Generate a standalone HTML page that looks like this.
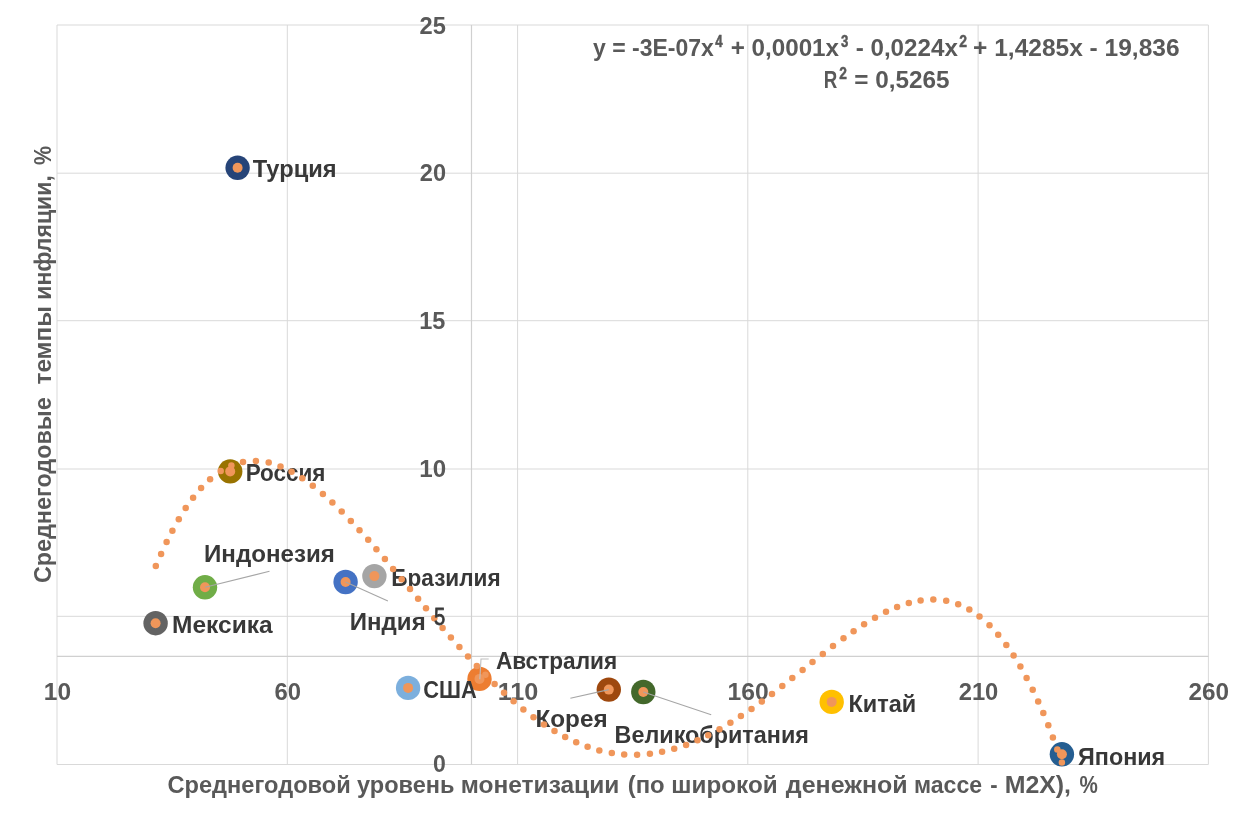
<!DOCTYPE html>
<html><head><meta charset="utf-8"><style>
html,body{margin:0;padding:0;background:#fff;width:1248px;height:815px;overflow:hidden}
svg{display:block;will-change:transform;font-family:"Liberation Sans",sans-serif;font-weight:bold}
text{white-space:pre}
</style></head><body>
<svg width="1248" height="815" viewBox="0 0 1248 815">
<g stroke="#d9d9d9" stroke-width="1" fill="none">
<line x1="57.0" y1="25.0" x2="57.0" y2="764.5"/>
<line x1="287.3" y1="25.0" x2="287.3" y2="764.5"/>
<line x1="517.6" y1="25.0" x2="517.6" y2="764.5"/>
<line x1="747.8" y1="25.0" x2="747.8" y2="764.5"/>
<line x1="978.1" y1="25.0" x2="978.1" y2="764.5"/>
<line x1="1208.4" y1="25.0" x2="1208.4" y2="764.5"/>
<line x1="57.0" y1="764.5" x2="1208.4" y2="764.5"/>
<line x1="57.0" y1="616.3" x2="1208.4" y2="616.3"/>
<line x1="57.0" y1="469.0" x2="1208.4" y2="469.0"/>
<line x1="57.0" y1="320.7" x2="1208.4" y2="320.7"/>
<line x1="57.0" y1="173.2" x2="1208.4" y2="173.2"/>
<line x1="57.0" y1="25.0" x2="1208.4" y2="25.0"/>
</g>
<line x1="471.5" y1="25.0" x2="471.5" y2="764.5" stroke="#d0d0d0" stroke-width="1.2"/>
<line x1="57.0" y1="656.3" x2="1208.4" y2="656.3" stroke="#d0d0d0" stroke-width="1.2"/>
<text x="419.50" y="33.50" font-size="24.0" fill="#595959" textLength="26.34" lengthAdjust="spacingAndGlyphs">25</text>
<text x="419.80" y="180.90" font-size="24.0" fill="#595959" textLength="26.24" lengthAdjust="spacingAndGlyphs">20</text>
<text x="419.32" y="328.70" font-size="24.0" fill="#595959" textLength="26.12" lengthAdjust="spacingAndGlyphs">15</text>
<text x="419.29" y="476.70" font-size="24.0" fill="#595959" textLength="26.86" lengthAdjust="spacingAndGlyphs">10</text>
<text x="433.10" y="772.40" font-size="24.0" fill="#595959" textLength="12.83" lengthAdjust="spacingAndGlyphs">0</text>
<text x="43.78" y="700.20" font-size="24.0" fill="#595959" textLength="27.28" lengthAdjust="spacingAndGlyphs">10</text>
<text x="274.50" y="700.20" font-size="24.0" fill="#595959" textLength="26.55" lengthAdjust="spacingAndGlyphs">60</text>
<text x="497.65" y="700.20" font-size="24.0" fill="#595959" textLength="40.72" lengthAdjust="spacingAndGlyphs">110</text>
<text x="727.47" y="700.20" font-size="24.0" fill="#595959" textLength="41.19" lengthAdjust="spacingAndGlyphs">160</text>
<text x="958.70" y="700.20" font-size="24.0" fill="#595959" textLength="39.64" lengthAdjust="spacingAndGlyphs">210</text>
<text x="1188.40" y="700.20" font-size="24.0" fill="#595959" textLength="40.55" lengthAdjust="spacingAndGlyphs">260</text>
<circle cx="237.6" cy="167.8" r="12.2" fill="#264478"/>
<circle cx="230.2" cy="471.4" r="12.2" fill="#997300"/>
<circle cx="205.0" cy="587.3" r="12.2" fill="#70AD47"/>
<circle cx="155.6" cy="623.2" r="12.2" fill="#636363"/>
<circle cx="345.6" cy="582.0" r="12.2" fill="#4472C4"/>
<circle cx="374.4" cy="576.1" r="12.2" fill="#A5A5A5"/>
<circle cx="408.1" cy="687.9" r="12.2" fill="#7CAFDD"/>
<circle cx="479.5" cy="678.9" r="12.2" fill="#ED7D31"/>
<circle cx="608.8" cy="689.6" r="12.2" fill="#9E480E"/>
<circle cx="643.3" cy="692.0" r="12.2" fill="#43682B"/>
<circle cx="831.7" cy="701.9" r="12.2" fill="#FFC000"/>
<circle cx="1061.9" cy="754.3" r="12.2" fill="#255E91"/>
<circle cx="237.6" cy="167.8" r="5" fill="#F0965A"/>
<circle cx="230.2" cy="471.4" r="5" fill="#F0965A"/>
<circle cx="205.0" cy="587.3" r="5" fill="#F0965A"/>
<circle cx="155.6" cy="623.2" r="5" fill="#F0965A"/>
<circle cx="345.6" cy="582.0" r="5" fill="#F0965A"/>
<circle cx="374.4" cy="576.1" r="5" fill="#F0965A"/>
<circle cx="408.1" cy="687.9" r="5" fill="#F0965A"/>
<circle cx="479.5" cy="678.9" r="5" fill="#F0965A"/>
<circle cx="608.8" cy="689.6" r="5" fill="#F0965A"/>
<circle cx="643.3" cy="692.0" r="5" fill="#F0965A"/>
<circle cx="831.7" cy="701.9" r="5" fill="#F0965A"/>
<circle cx="1061.9" cy="754.3" r="5" fill="#F0965A"/>
<g stroke="#a6a6a6" stroke-width="1.1" fill="none">
<line x1="205.0" y1="587.3" x2="269.5" y2="571.3"/>
<line x1="345.6" y1="582.0" x2="387.9" y2="601.1"/>
<line x1="608.8" y1="689.6" x2="570.4" y2="698.3"/>
<line x1="643.3" y1="692.0" x2="711.2" y2="714.8"/>
</g>
<polyline points="479.8,679.3 481,659 488.7,659" stroke="#bfbfbf" stroke-width="1.1" fill="none"/>
<text x="252.80" y="177.40" font-size="24.5" fill="#383838" textLength="83.75" lengthAdjust="spacingAndGlyphs">Турция</text>
<text x="245.68" y="480.90" font-size="24.5" fill="#383838" textLength="79.81" lengthAdjust="spacingAndGlyphs">Россия</text>
<text x="204.02" y="561.60" font-size="24.5" fill="#383838" textLength="130.86" lengthAdjust="spacingAndGlyphs">Индонезия</text>
<text x="172.10" y="633.00" font-size="24.5" fill="#383838" textLength="100.53" lengthAdjust="spacingAndGlyphs">Мексика</text>
<text x="391.28" y="585.80" font-size="24.5" fill="#383838" textLength="109.42" lengthAdjust="spacingAndGlyphs">Бразилия</text>
<text x="349.82" y="629.50" font-size="24.5" fill="#383838" textLength="75.85" lengthAdjust="spacingAndGlyphs">Индия</text>
<text x="423.31" y="698.00" font-size="24.5" fill="#383838" textLength="53.52" lengthAdjust="spacingAndGlyphs">США</text>
<text x="495.90" y="668.50" font-size="24.5" fill="#383838" textLength="121.30" lengthAdjust="spacingAndGlyphs">Австралия</text>
<text x="535.41" y="727.00" font-size="24.5" fill="#383838" textLength="72.18" lengthAdjust="spacingAndGlyphs">Корея</text>
<text x="614.55" y="743.00" font-size="24.5" fill="#383838" textLength="194.39" lengthAdjust="spacingAndGlyphs">Великобритания</text>
<text x="848.44" y="711.90" font-size="24.5" fill="#383838" textLength="67.78" lengthAdjust="spacingAndGlyphs">Китай</text>
<text x="1078.00" y="764.50" font-size="24.5" fill="#383838" textLength="87.23" lengthAdjust="spacingAndGlyphs">Япония</text>
<g fill="#F0965A">
<circle cx="155.8" cy="566.1" r="3.25"/>
<circle cx="161.1" cy="553.9" r="3.25"/>
<circle cx="166.6" cy="542.1" r="3.25"/>
<circle cx="172.4" cy="530.7" r="3.25"/>
<circle cx="178.8" cy="519.3" r="3.25"/>
<circle cx="185.7" cy="508.1" r="3.25"/>
<circle cx="193.1" cy="497.8" r="3.25"/>
<circle cx="201.1" cy="488.1" r="3.25"/>
<circle cx="210.1" cy="479.2" r="3.25"/>
<circle cx="220.7" cy="471.1" r="3.25"/>
<circle cx="231.4" cy="465.4" r="3.25"/>
<circle cx="243.0" cy="461.9" r="3.25"/>
<circle cx="255.9" cy="460.9" r="3.25"/>
<circle cx="268.7" cy="462.6" r="3.25"/>
<circle cx="280.5" cy="466.4" r="3.25"/>
<circle cx="291.6" cy="471.7" r="3.25"/>
<circle cx="302.3" cy="478.2" r="3.25"/>
<circle cx="312.8" cy="485.7" r="3.25"/>
<circle cx="322.9" cy="494.0" r="3.25"/>
<circle cx="332.4" cy="502.6" r="3.25"/>
<circle cx="341.7" cy="511.5" r="3.25"/>
<circle cx="350.8" cy="520.9" r="3.25"/>
<circle cx="359.5" cy="530.2" r="3.25"/>
<circle cx="368.2" cy="539.8" r="3.25"/>
<circle cx="376.4" cy="549.3" r="3.25"/>
<circle cx="384.9" cy="559.1" r="3.25"/>
<circle cx="393.1" cy="568.9" r="3.25"/>
<circle cx="401.7" cy="579.2" r="3.25"/>
<circle cx="410.0" cy="589.1" r="3.25"/>
<circle cx="418.1" cy="598.8" r="3.25"/>
<circle cx="426.0" cy="608.3" r="3.25"/>
<circle cx="434.3" cy="618.2" r="3.25"/>
<circle cx="442.6" cy="627.9" r="3.25"/>
<circle cx="450.9" cy="637.5" r="3.25"/>
<circle cx="459.4" cy="647.1" r="3.25"/>
<circle cx="468.0" cy="656.5" r="3.25"/>
<circle cx="476.8" cy="665.9" r="3.25"/>
<circle cx="485.4" cy="674.8" r="3.25"/>
<circle cx="494.6" cy="683.9" r="3.25"/>
<circle cx="504.0" cy="692.7" r="3.25"/>
<circle cx="513.6" cy="701.3" r="3.25"/>
<circle cx="523.4" cy="709.4" r="3.25"/>
<circle cx="533.5" cy="717.2" r="3.25"/>
<circle cx="544.0" cy="724.6" r="3.25"/>
<circle cx="554.5" cy="731.1" r="3.25"/>
<circle cx="565.2" cy="737.1" r="3.25"/>
<circle cx="576.2" cy="742.3" r="3.25"/>
<circle cx="587.6" cy="746.8" r="3.25"/>
<circle cx="599.3" cy="750.4" r="3.25"/>
<circle cx="611.8" cy="753.0" r="3.25"/>
<circle cx="624.2" cy="754.5" r="3.25"/>
<circle cx="637.1" cy="754.8" r="3.25"/>
<circle cx="649.9" cy="753.8" r="3.25"/>
<circle cx="662.1" cy="751.8" r="3.25"/>
<circle cx="674.2" cy="748.8" r="3.25"/>
<circle cx="686.1" cy="744.9" r="3.25"/>
<circle cx="697.5" cy="740.3" r="3.25"/>
<circle cx="708.2" cy="735.2" r="3.25"/>
<circle cx="719.5" cy="729.2" r="3.25"/>
<circle cx="730.4" cy="722.8" r="3.25"/>
<circle cx="740.9" cy="716.1" r="3.25"/>
<circle cx="751.5" cy="708.9" r="3.25"/>
<circle cx="761.8" cy="701.5" r="3.25"/>
<circle cx="772.0" cy="693.9" r="3.25"/>
<circle cx="782.3" cy="686.0" r="3.25"/>
<circle cx="792.3" cy="678.1" r="3.25"/>
<circle cx="802.6" cy="670.0" r="3.25"/>
<circle cx="812.5" cy="662.1" r="3.25"/>
<circle cx="822.8" cy="654.0" r="3.25"/>
<circle cx="833.0" cy="646.1" r="3.25"/>
<circle cx="843.5" cy="638.3" r="3.25"/>
<circle cx="853.6" cy="631.2" r="3.25"/>
<circle cx="864.1" cy="624.2" r="3.25"/>
<circle cx="875.0" cy="617.7" r="3.25"/>
<circle cx="886.0" cy="611.8" r="3.25"/>
<circle cx="897.1" cy="606.9" r="3.25"/>
<circle cx="908.8" cy="603.0" r="3.25"/>
<circle cx="920.6" cy="600.4" r="3.25"/>
<circle cx="933.3" cy="599.5" r="3.25"/>
<circle cx="946.2" cy="600.8" r="3.25"/>
<circle cx="958.2" cy="604.2" r="3.25"/>
<circle cx="969.3" cy="609.6" r="3.25"/>
<circle cx="979.5" cy="616.6" r="3.25"/>
<circle cx="989.5" cy="625.3" r="3.25"/>
<circle cx="998.2" cy="634.7" r="3.25"/>
<circle cx="1006.3" cy="645.0" r="3.25"/>
<circle cx="1013.6" cy="655.6" r="3.25"/>
<circle cx="1020.4" cy="666.6" r="3.25"/>
<circle cx="1026.6" cy="677.9" r="3.25"/>
<circle cx="1032.7" cy="689.8" r="3.25"/>
<circle cx="1038.2" cy="701.4" r="3.25"/>
<circle cx="1043.3" cy="713.1" r="3.25"/>
<circle cx="1048.3" cy="725.3" r="3.25"/>
<circle cx="1052.9" cy="737.4" r="3.25"/>
<circle cx="1057.3" cy="749.4" r="3.25"/>
<circle cx="1061.9" cy="762.5" r="3.25"/>
</g>
<text font-weight="normal" stroke="#3a3a3a" stroke-width="0.8" x="434.00" y="624.50" font-size="24.0" fill="#383838" textLength="11.19" lengthAdjust="spacingAndGlyphs">5</text>
<text x="593.00" y="55.60" font-size="24.0" fill="#595959" textLength="120.87" lengthAdjust="spacingAndGlyphs">y = -3E-07x</text>
<text stroke="#595959" stroke-width="0.5" x="715.30" y="47.10" font-size="16.5" fill="#595959" textLength="7.34" lengthAdjust="spacingAndGlyphs">4</text>
<text x="730.69" y="55.60" font-size="24.0" fill="#595959" textLength="108.35" lengthAdjust="spacingAndGlyphs">+ 0,0001x</text>
<text stroke="#595959" stroke-width="0.5" x="840.90" y="47.10" font-size="16.5" fill="#595959" textLength="7.34" lengthAdjust="spacingAndGlyphs">3</text>
<text x="855.70" y="55.60" font-size="24.0" fill="#595959" textLength="102.14" lengthAdjust="spacingAndGlyphs">- 0,0224x</text>
<text stroke="#595959" stroke-width="0.5" x="959.30" y="47.10" font-size="16.5" fill="#595959" textLength="7.75" lengthAdjust="spacingAndGlyphs">2</text>
<text x="973.08" y="55.60" font-size="24.0" fill="#595959" textLength="206.48" lengthAdjust="spacingAndGlyphs">+ 1,4285x - 19,836</text>
<text x="823.82" y="88.20" font-size="24.0" fill="#595959" textLength="13.54" lengthAdjust="spacingAndGlyphs">R</text>
<text stroke="#595959" stroke-width="0.5" x="839.20" y="78.90" font-size="16.5" fill="#595959" textLength="7.65" lengthAdjust="spacingAndGlyphs">2</text>
<text x="854.39" y="88.20" font-size="24.0" fill="#595959" textLength="95.26" lengthAdjust="spacingAndGlyphs">= 0,5265</text>
<text x="167.50" y="792.70" font-size="23.8" fill="#595959" textLength="183.22" lengthAdjust="spacingAndGlyphs">Среднегодовой</text>
<text x="357.00" y="792.70" font-size="23.8" fill="#595959" textLength="97.52" lengthAdjust="spacingAndGlyphs">уровень</text>
<text x="460.77" y="792.70" font-size="23.8" fill="#595959" textLength="158.51" lengthAdjust="spacingAndGlyphs">монетизации</text>
<text x="627.70" y="792.70" font-size="23.8" fill="#595959" textLength="36.94" lengthAdjust="spacingAndGlyphs">(по</text>
<text x="671.38" y="792.70" font-size="23.8" fill="#595959" textLength="106.28" lengthAdjust="spacingAndGlyphs">широкой</text>
<text x="785.80" y="792.70" font-size="23.8" fill="#595959" textLength="121.81" lengthAdjust="spacingAndGlyphs">денежной</text>
<text x="913.93" y="792.70" font-size="23.8" fill="#595959" textLength="68.20" lengthAdjust="spacingAndGlyphs">массе</text>
<text x="990.20" y="792.70" font-size="23.8" fill="#595959" textLength="7.36" lengthAdjust="spacingAndGlyphs">-</text>
<text x="1004.65" y="792.70" font-size="23.8" fill="#595959" textLength="66.39" lengthAdjust="spacingAndGlyphs">M2X),</text>
<text x="1079.40" y="792.70" font-size="23.8" fill="#595959" textLength="18.34" lengthAdjust="spacingAndGlyphs">%</text>
<text transform="rotate(-90)" x="-583.10" y="51.30" font-size="23.8" fill="#595959" textLength="185.83" lengthAdjust="spacingAndGlyphs">Среднегодовые</text>
<text transform="rotate(-90)" x="-384.50" y="51.30" font-size="23.8" fill="#595959" textLength="78.35" lengthAdjust="spacingAndGlyphs">темпы</text>
<text transform="rotate(-90)" x="-299.77" y="51.30" font-size="23.8" fill="#595959" textLength="124.56" lengthAdjust="spacingAndGlyphs">инфляции,</text>
<text transform="rotate(-90)" x="-165.00" y="51.30" font-size="23.8" fill="#595959" textLength="19.04" lengthAdjust="spacingAndGlyphs">%</text>
</svg></body></html>
